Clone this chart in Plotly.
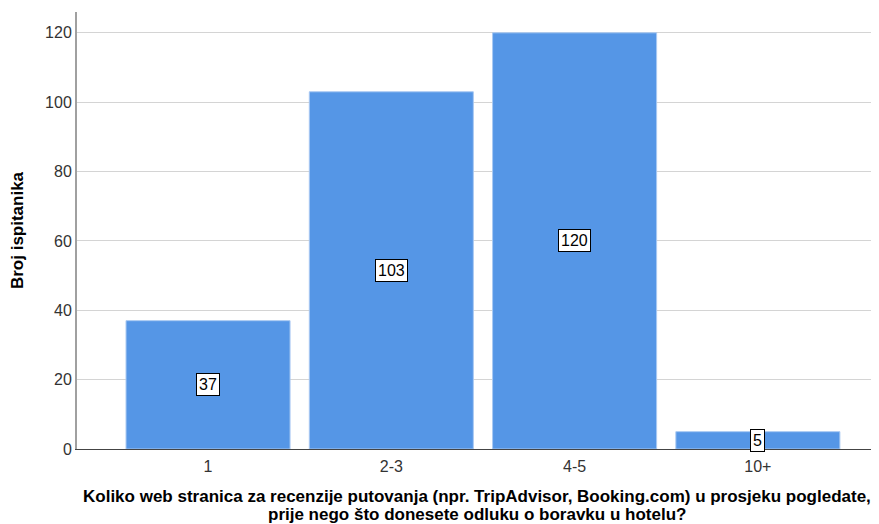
import plotly.graph_objects as go

categories = ["1", "2-3", "4-5", "10+"]
counts = [37, 103, 120, 5]
y_ticks = [0, 20, 40, 60, 80, 100, 120]
x_title_lines = [
    "Koliko web stranica za recenzije putovanja (npr. TripAdvisor, Booking.com) u prosjeku pogledate,",
    "prije nego što donesete odluku o boravku u hotelu?",
]

fig = go.Figure()
fig.add_trace(go.Bar(
    x=categories, y=counts,
    marker=dict(color="#5596e6", line=dict(color="#a9c9f2", width=1)),
    width=0.895,
    hoverinfo="skip",
))

for i, v in enumerate(counts):
    fig.add_annotation(
        x=i, y=v / 2, text=str(v), showarrow=False,
        font=dict(family="Liberation Sans, Arial", size=16, color="#000"),
        bgcolor="white", bordercolor="#000", borderwidth=1, borderpad=2,
    )

for line, ypos in zip(x_title_lines, [-0.108, -0.150]):
    fig.add_annotation(
        xref="paper", yref="paper", x=0.5, y=ypos,
        xanchor="center", yanchor="middle", showarrow=False,
        text="<b>" + line + "</b>",
        font=dict(family="Liberation Sans, Arial", size=17, color="#000"),
    )

fig.update_layout(
    width=871, height=516,
    margin=dict(l=69, r=2, t=4, b=75),
    plot_bgcolor="white", paper_bgcolor="white",
    showlegend=False,
    font=dict(family="Liberation Sans, Arial", size=16, color="#333"),
    xaxis=dict(
        type="category", range=[-0.715, 3.65], automargin=False,
        showline=True, linecolor="#444", linewidth=1,
        ticks="", showgrid=False, ticklabelstandoff=3,
        tickfont=dict(size=16, color="#333"),
    ),
    yaxis=dict(
        range=[0, 126], tickvals=y_ticks, automargin=False,
        showline=True, linecolor="#a0a0a0", linewidth=2,
        showgrid=True, gridcolor="#d4d4d4", gridwidth=1,
        zeroline=False, ticks="",
        tickfont=dict(size=16, color="#333"),
        title=dict(text="<b>Broj ispitanika</b>", font=dict(size=17, color="#000"), standoff=20),
    ),
)

fig.write_html("out.html")
